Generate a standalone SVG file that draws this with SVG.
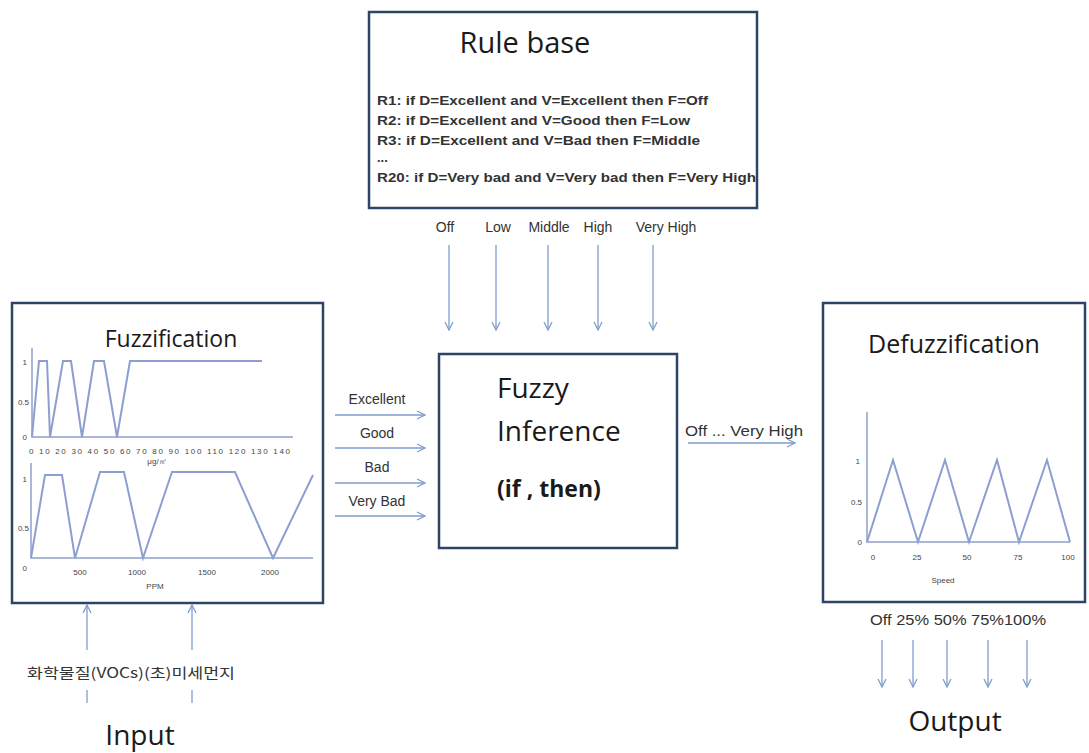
<svg xmlns="http://www.w3.org/2000/svg" width="1089" height="753" viewBox="0 0 1089 753">
<defs>
<marker id="ah" viewBox="0 0 10 10" refX="9" refY="5" markerWidth="10" markerHeight="10" markerUnits="userSpaceOnUse" orient="auto">
<path d="M1,1 L9,5 L1,9" fill="none" stroke="#7f9dcc" stroke-width="1.3"/>
</marker>
</defs>
<style>
.box{fill:#fff;stroke:#2e4466;stroke-width:2.5}
.t{font-family:"Open Sans","Liberation Sans",sans-serif;fill:#1a1a1a}
.s{font-family:"Liberation Sans",sans-serif;fill:#333}
.arr{stroke:#7f9dcc;stroke-width:1.3;fill:none;marker-end:url(#ah)}
.ax{stroke:#8ea0c8;stroke-width:1.5;fill:none}
.cv{stroke:#8c9fd0;stroke-width:2;fill:none}
.tk{font-family:"Liberation Sans",sans-serif;font-size:8px;fill:#444}
</style>
<rect width="1089" height="753" fill="#fff"/>

<g id="rulebase">
<rect class="box" x="369" y="12" width="388" height="196"/>
<text class="t" x="525" y="53" font-size="29" text-anchor="middle">Rule base</text>
<g class="s" font-size="13" font-weight="bold">
<text x="377" y="105" textLength="331" lengthAdjust="spacingAndGlyphs">R1: if D=Excellent and V=Excellent then F=Off</text>
<text x="377" y="125" textLength="313" lengthAdjust="spacingAndGlyphs">R2: if D=Excellent and V=Good then F=Low</text>
<text x="377" y="145" textLength="323" lengthAdjust="spacingAndGlyphs">R3: if D=Excellent and V=Bad then F=Middle</text>
<text x="377" y="162">...</text>
<text x="377" y="182" textLength="379" lengthAdjust="spacingAndGlyphs">R20: if D=Very bad and V=Very bad then F=Very High</text>
</g>
</g>

<g id="fuzzification">
<rect class="box" x="12" y="303" width="311" height="300"/>
<text class="t" x="171" y="347" font-size="23" text-anchor="middle">Fuzzification</text>
<path class="ax" d="M32,348 V437 H293"/>
<polyline class="cv" points="32,437 39,361 47,361 50,437 63,361 71,361 82,437 94,361 104,361 117,437 130,361 262,361"/>
<text class="tk" x="27" y="365" text-anchor="end">1</text>
<text class="tk" x="29" y="405" text-anchor="end">0.5</text>
<text class="tk" x="27" y="440" text-anchor="end">0</text>
<text class="tk" x="29" y="454" textLength="261" lengthAdjust="spacing">0 10 20 30 40 50 60 70 80 90 100 110 120 130 140</text>
<text class="tk" x="157" y="464" text-anchor="middle">μg/㎥</text>
<path class="ax" d="M31,463 V558 H313"/>
<polyline class="cv" points="31,558 45,475 62,475 75,558 100,472 124,472 143,558 172,472 235,472 273,558 313,475"/>
<text class="tk" x="27" y="482" text-anchor="end">1</text>
<text class="tk" x="29" y="531" text-anchor="end">0.5</text>
<text class="tk" x="27" y="571" text-anchor="end">0</text>
<text class="tk" x="80" y="575" text-anchor="middle">500</text>
<text class="tk" x="137" y="575" text-anchor="middle">1000</text>
<text class="tk" x="207" y="575" text-anchor="middle">1500</text>
<text class="tk" x="270" y="575" text-anchor="middle">2000</text>
<text class="tk" x="155" y="589" text-anchor="middle" font-size="7">PPM</text>
</g>

<g id="inference">
<rect class="box" x="439" y="354" width="238" height="194"/>
<text class="t" x="497" y="398" font-size="28">Fuzzy</text>
<text class="t" x="497" y="441" font-size="28">Inference</text>
<text class="t" x="497" y="497" font-size="23" font-weight="bold">(if , then)</text>
</g>

<g id="defuzzification">
<rect class="box" x="823" y="303" width="262" height="299"/>
<text class="t" x="954" y="353" font-size="25" text-anchor="middle">Defuzzification</text>
<path class="ax" d="M867,412 V542 H1070"/>
<polyline class="cv" points="867,542 893,460 918,542 945,460 969,542 997,460 1019,542 1047,460 1070,542"/>
<text class="tk" x="860" y="464" text-anchor="end">1</text>
<text class="tk" x="862" y="505" text-anchor="end">0.5</text>
<text class="tk" x="862" y="545" text-anchor="end">0</text>
<text class="tk" x="873" y="560" text-anchor="middle">0</text>
<text class="tk" x="917" y="560" text-anchor="middle">25</text>
<text class="tk" x="967" y="560" text-anchor="middle">50</text>
<text class="tk" x="1018" y="560" text-anchor="middle">75</text>
<text class="tk" x="1068" y="560" text-anchor="middle">100</text>
<text class="tk" x="943" y="583" text-anchor="middle" font-size="7">Speed</text>
</g>

<g id="labels" class="s" font-size="14">
<text x="445" y="232" text-anchor="middle">Off</text>
<text x="498" y="232" text-anchor="middle">Low</text>
<text x="549" y="232" text-anchor="middle">Middle</text>
<text x="598" y="232" text-anchor="middle">High</text>
<text x="666" y="232" text-anchor="middle">Very High</text>
<text x="377" y="404" text-anchor="middle">Excellent</text>
<text x="377" y="438" text-anchor="middle">Good</text>
<text x="377" y="472" text-anchor="middle">Bad</text>
<text x="377" y="506" text-anchor="middle">Very Bad</text>
<text x="744" y="436" text-anchor="middle" textLength="118" lengthAdjust="spacingAndGlyphs">Off ... Very High</text>
<text x="958" y="625" text-anchor="middle" textLength="176" lengthAdjust="spacingAndGlyphs">Off 25% 50% 75%100%</text>
<text x="131" y="678" text-anchor="middle" textLength="208" lengthAdjust="spacingAndGlyphs" font-family="'Noto Sans CJK KR',sans-serif">화학물질(VOCs)(초)미세먼지</text>
</g>
<text class="t" x="140" y="745" font-size="28" text-anchor="middle">Input</text>
<text class="t" x="955" y="731" font-size="28" text-anchor="middle">Output</text>

<g id="connectors">
<line class="arr" x1="449" y1="245" x2="449" y2="330"/>
<line class="arr" x1="496" y1="245" x2="496" y2="330"/>
<line class="arr" x1="548" y1="245" x2="548" y2="330"/>
<line class="arr" x1="598" y1="245" x2="598" y2="330"/>
<line class="arr" x1="653" y1="245" x2="653" y2="330"/>
<line class="arr" x1="335" y1="415" x2="425" y2="415"/>
<line class="arr" x1="335" y1="448" x2="425" y2="448"/>
<line class="arr" x1="335" y1="483" x2="425" y2="483"/>
<line class="arr" x1="335" y1="516" x2="425" y2="516"/>
<line class="arr" x1="688" y1="443" x2="795" y2="443"/>
<line class="arr" x1="87" y1="650" x2="87" y2="605"/>
<line class="arr" x1="192" y1="650" x2="192" y2="605"/>
<line x1="87" y1="690" x2="87" y2="703" stroke="#7f9dcc" stroke-width="1.3"/>
<line x1="192" y1="690" x2="192" y2="703" stroke="#7f9dcc" stroke-width="1.3"/>
<line class="arr" x1="882" y1="640" x2="882" y2="687"/>
<line class="arr" x1="913" y1="640" x2="913" y2="687"/>
<line class="arr" x1="947" y1="640" x2="947" y2="687"/>
<line class="arr" x1="988" y1="640" x2="988" y2="687"/>
<line class="arr" x1="1027" y1="640" x2="1027" y2="687"/>
</g>
</svg>
